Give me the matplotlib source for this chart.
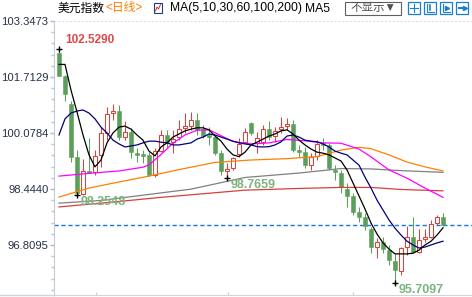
import numpy as np
import matplotlib
matplotlib.use("Agg")
import matplotlib.pyplot as plt
from matplotlib.patches import Rectangle
from matplotlib.lines import Line2D
from matplotlib.ticker import FixedLocator

# daily candles
opens = [102.40, 101.75, 100.92, 99.39, 98.30, 98.97, 98.94, 99.44, 100.08, 100.65,
         100.73, 99.96, 100.12, 99.49, 99.47, 99.44, 98.85, 99.56, 100.02, 99.82,
         99.95, 100.22, 100.29, 100.46, 100.19, 100.02, 99.95, 99.49, 98.98, 99.05,
         99.47, 99.82, 100.38, 99.78, 99.82, 100.19, 99.99, 100.19, 100.28, 100.34,
         99.58, 99.53, 99.14, 99.41, 99.78, 99.73, 99.00, 98.91, 98.43, 98.24,
         97.78, 97.64, 97.28, 96.74, 96.90, 96.66, 96.35, 96.06, 96.74, 97.03,
         96.61, 96.97, 97.05, 97.44, 97.64]
highs = [102.529, 101.76, 101.02, 99.58, 99.31, 99.93, 99.58, 100.25, 100.85, 100.92,
         100.90, 100.44, 100.22, 99.64, 99.58, 99.52, 99.64, 100.17, 100.17, 100.17,
         100.46, 100.66, 100.69, 100.66, 100.31, 100.24, 100.02, 99.58, 99.20, 99.38,
         99.93, 100.22, 100.41, 100.12, 100.31, 100.44, 100.26, 100.54, 100.51, 100.46,
         99.73, 99.68, 99.49, 99.87, 99.92, 99.79, 99.14, 98.99, 98.61, 98.32,
         97.93, 97.73, 97.34, 97.01, 97.05, 96.81, 96.57, 96.76, 97.36, 97.64,
         97.27, 97.27, 97.54, 97.68, 97.73]
lows = [101.74, 101.02, 99.24, 98.2548, 98.28, 98.91, 98.85, 99.09, 99.87, 100.46,
        99.87, 99.87, 99.35, 99.23, 99.20, 98.82, 98.80, 99.52, 99.64, 99.49,
        99.87, 100.08, 100.17, 100.02, 99.93, 99.73, 99.44, 98.85, 98.7659, 99.00,
        99.38, 99.78, 100.02, 99.49, 99.73, 99.87, 99.82, 100.08, 100.17, 99.52,
        99.37, 99.05, 99.00, 99.29, 99.58, 99.00, 98.71, 98.34, 97.93, 97.68,
        97.49, 97.25, 96.57, 96.42, 96.57, 96.22, 95.7097, 95.93, 96.52, 96.57,
        96.57, 96.90, 97.01, 97.39, 97.36]
closes = [101.75, 101.22, 99.39, 98.32, 98.97, 98.92, 99.41, 100.08, 100.63, 100.73,
          99.95, 100.11, 99.53, 99.44, 99.42, 98.85, 99.55, 100.02, 99.82, 99.89,
          100.19, 100.28, 100.46, 100.17, 99.99, 99.95, 99.49, 98.98, 99.04, 99.34,
          99.76, 100.12, 100.07, 99.94, 100.19, 99.95, 100.15, 100.24, 100.34, 99.58,
          99.53, 99.14, 99.37, 99.75, 99.73, 99.05, 98.94, 98.49, 98.24, 97.78,
          97.64, 97.36, 96.74, 96.90, 96.68, 96.37, 96.08, 96.71, 97.03, 96.61,
          96.95, 97.03, 97.41, 97.62, 97.38]

ma5 = [102.08, 102.08, 101.33, 100.69, 100.02, 99.44, 99.09, 99.29, 99.79, 100.08,
       100.25, 100.28, 100.19, 100.02, 99.87, 99.55, 99.41, 99.67, 99.79, 99.96,
       100.05, 100.14, 100.19, 100.23, 100.23, 100.17, 99.99, 99.84, 99.61, 99.44,
       99.39, 99.52, 99.73, 99.81, 99.90, 99.99, 100.05, 100.14, 100.17, 100.05,
       99.87, 99.73, 99.61, 99.52, 99.49, 99.44, 99.35, 99.26, 99.00, 98.62,
       98.24, 97.86, 97.45, 97.13, 96.87, 96.69, 96.55, 96.55, 96.55, 96.57,
       96.66, 96.81, 96.92, 97.10, 97.31]
ma10 = [100.02, 100.49, 100.66, 100.72, 100.75, 100.66, 100.49, 100.25, 100.08, 99.87,
        99.76, 99.67, 99.70, 99.73, 99.79, 99.84, 99.84, 99.81, 99.79, 99.73,
        99.73, 99.76, 99.79, 99.90, 99.96, 100.05, 100.02, 99.96, 99.90, 99.84,
        99.79, 99.76, 99.73, 99.68, 99.67, 99.68, 99.73, 99.82, 99.99, 100.02,
        99.96, 99.87, 99.84, 99.82, 99.76, 99.67, 99.55, 99.49, 99.44, 99.29,
        99.14, 98.79, 98.47, 98.12, 97.83, 97.54, 97.30, 97.10, 96.92, 96.81,
        96.72, 96.75, 96.81, 96.87, 96.92]
ma30_idx = [0, 5, 10, 14, 15, 17, 19, 21, 23, 25, 27, 29, 32, 35, 38, 41, 44, 47, 50, 52, 55, 58, 61, 64]
ma30 = [98.82, 98.90, 98.97, 99.08, 99.15, 99.45, 99.78, 100.02, 100.16, 100.17, 100.00, 99.83,
        99.76, 99.79, 99.89, 99.85, 99.79, 99.78, 99.61, 99.38, 99.00, 98.76, 98.47, 98.20]
ma60_idx = [0, 5, 10, 15, 20, 26, 32, 38, 43, 47, 50, 52, 55, 58, 61, 64]
ma60 = [98.21, 98.47, 98.65, 98.82, 99.01, 99.22, 99.29, 99.33, 99.39, 99.58, 99.66, 99.62,
        99.44, 99.23, 99.09, 98.97]
ma100_idx = [0, 7, 17, 22, 31, 40, 47, 52, 57, 64]
ma100 = [98.03, 98.11, 98.33, 98.44, 98.78, 98.91, 99.04, 99.03, 98.98, 98.93]
ma200_idx = [0, 10, 17, 31, 40, 47, 52, 57, 64]
ma200 = [97.92, 98.08, 98.20, 98.41, 98.46, 98.49, 98.49, 98.43, 98.39]

ytick_vals = [96.8095, 98.4440, 100.0784, 101.7129, 103.3473]
ytick_labels = ["96.8095", "98.4440", "100.0784", "101.7129", "103.3473"]
month_ticks = [6.1, 28.1, 49.05]

mark_idx = [0, 3, 28, 56]
mark_val = [102.529, 98.2548, 98.7659, 95.7097]
mark_text = ["102.5290", "98.2548", "98.7659", "95.7097"]

red = "#e0403a"
green = "#5b9f5b"
W, H = 472, 297

fig = plt.figure(figsize=(W / 100, H / 100), dpi=100)
ax = fig.add_axes([54 / W, 2 / H, 418 / W, 274 / H])

o = np.array(opens)
h = np.array(highs)
l = np.array(lows)
c = np.array(closes)
x = np.arange(len(o))
up = c >= o
dn = ~up

ax.vlines(x[up], l[up], h[up], color=red, lw=0.75, zorder=2)
ax.vlines(x[dn], l[dn], h[dn], color=green, lw=0.75, zorder=2)
body = np.maximum(np.abs(c - o), 0.02)
ax.bar(x[up], body[up], bottom=np.minimum(o, c)[up], width=0.62,
       facecolor="white", edgecolor=red, linewidth=0.75, zorder=3)
ax.bar(x[dn], body[dn], bottom=np.minimum(o, c)[dn], width=0.75,
       facecolor=green, edgecolor=green, linewidth=0.4, zorder=3)

ax.plot(ma200_idx, ma200, color="#d8403a", lw=0.9, zorder=4)
ax.plot(ma100_idx, ma100, color="#808080", lw=0.9, zorder=4)
ax.plot(ma60_idx, ma60, color="#ff8000", lw=0.9, zorder=4)
ax.plot(ma30_idx, ma30, color="#ff00ff", lw=0.9, zorder=4)
ax.plot(x, ma10, color="#000080", lw=0.9, zorder=4)
ax.plot(x, ma5, color="black", lw=0.9, zorder=4)

ax.axhline(closes[-1], color="#1a73e0", lw=1, ls=(0, (3, 2)), zorder=1)
ax.axhline(ytick_vals[-1], color="#d4d8e0", lw=0.7, ls=(0, (2, 2)), clip_on=False, zorder=1)

ax.plot(mark_idx, mark_val, "+", color="black", ms=5, mew=1, zorder=6)
for i, (mi, mv, mt) in enumerate(zip(mark_idx, mark_val, mark_text)):
    if i == 0:
        ax.annotate(mt, (mi, mv), xytext=(6, 9), textcoords="offset pixels",
                    color="#e04848", fontsize=8.5, fontweight="bold",
                    family="Liberation Sans", va="center", ha="left", zorder=7)
    else:
        ax.annotate(mt, (mi, mv), xytext=(4, -7), textcoords="offset pixels",
                    color="#7db37d", fontsize=9, fontweight="bold",
                    family="Liberation Sans", va="center", ha="left", zorder=7)

ax.set_xlim(-0.833, 68.83)
ax.set_ylim(95.350, 103.3473)

ax.yaxis.set_major_locator(FixedLocator(ytick_vals))
ax.set_yticklabels(ytick_labels, family="Liberation Sans", fontsize=8.1, color="#283046")
step = (ytick_vals[1] - ytick_vals[0]) / 5
ax.yaxis.set_minor_locator(FixedLocator(np.arange(ytick_vals[0] - 4 * step, ytick_vals[-1], step)))
ax.tick_params(axis="y", which="major", direction="out", length=3, width=1, color="#a8b8d0", pad=1)
ax.tick_params(axis="y", which="minor", direction="out", length=2, width=1, color="#b8c4d8")
ax.set_xticks(month_ticks)
ax.set_xticklabels([])
ax.tick_params(axis="x", direction="in", length=2, color="#c8ccd8")

for s in ["top", "right"]:
    ax.spines[s].set_visible(False)
ax.spines["left"].set_color("#c5cad6")
ax.spines["bottom"].set_color("#d0d4dc")
fig.add_artist(Line2D([0, 54 / W], [2 / H, 2 / H], color="#d0d4dc", lw=1))

# header bar drawn in pixel coords
hx = fig.add_axes([0, 0, 1, 1], zorder=10)
hx.set_xlim(0, W)
hx.set_ylim(H, 0)
hx.axis("off")
fam = ["Liberation Sans", "Noto Sans CJK SC", "DejaVu Sans"]
hx.text(58, 8.5, "美元指数", family=fam, fontsize=8.5, color="black", va="center")
hx.text(105, 8.5, "<日线>", family=fam, fontsize=8.5, color="#ff7f00", va="center")
hx.add_patch(Rectangle((154, 2.5), 8, 10.5, fc="white", ec="#1e3a8a", lw=0.8))
hx.plot([155.5, 157, 158.5, 160.5], [11, 7, 9, 4.5], color="#e03030", lw=0.7)
hx.text(170, 8.5, "MA(5,10,30,60,100,200)", family=fam, fontsize=8.7, color="black", va="center")
hx.text(305, 8.5, "MA5", family=fam, fontsize=8.7, color="black", va="center")
hx.add_patch(Rectangle((345, 1.5), 56, 13, fc="white", ec="#606060", lw=0.8))
hx.text(373, 8.3, "不显示▼", family=fam, fontsize=8.3, color="#505050", va="center", ha="center")
for bx in [408, 424, 440, 456]:
    hx.add_patch(Rectangle((bx, 2), 12, 11.5, fc="white", ec="#1a7fd0", lw=0.9))
hx.plot([414, 414], [4, 12], color="#1a7fd0", lw=0.8)
hx.plot([410, 418], [8, 8], color="#1a7fd0", lw=0.8)
hx.plot([427, 427, 434], [4, 11.5, 11.5], color="#1a7fd0", lw=0.8)
hx.plot([430, 430], [5, 10], color="#1a7fd0", lw=1.2)
hx.plot([443, 443, 450], [4, 11.5, 11.5], color="#1a7fd0", lw=0.8)
hx.plot([447], [7.5], ">", color="#1a7fd0", ms=3)
hx.plot([459, 463], [7.75, 7.75], color="#1a7fd0", lw=1.5)
hx.plot([464.5], [7.75], ">", color="#1a7fd0", ms=3)

fig.savefig("out.png", dpi=100)
